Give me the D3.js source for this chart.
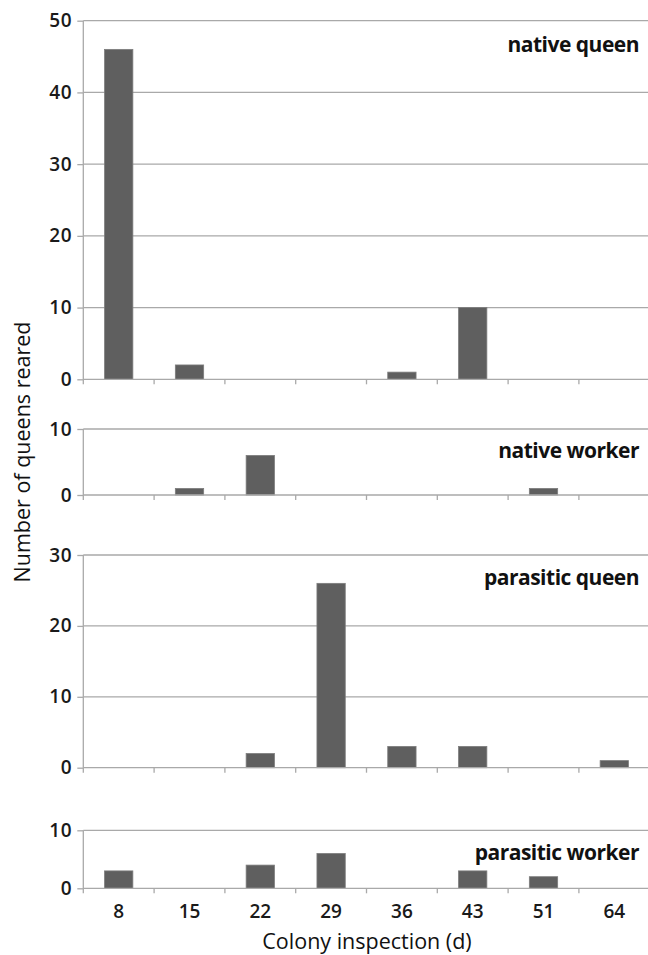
<!DOCTYPE html>
<html lang="en">
<head>
<meta charset="UTF-8">
<title>Queens reared per colony inspection</title>
<script src="https://d3js.org/d3.v7.min.js"></script>
<style>
  html, body { margin: 0; padding: 0; background: #fff; }
  svg { display: block; font-family: "Open Sans", "Noto Sans", sans-serif; }
</style>
</head>
<body>
<div id="chart"></div>
<script>
  // data
  const days = ["8", "15", "22", "29", "36", "43", "51", "64"];
  const nativeQueen = [46, 2, 0, 0, 1, 10, 0, 0];
  const nativeWorker = [0, 1, 6, 0, 0, 0, 1, 0];
  const parasiticQueen = [0, 0, 2, 26, 3, 3, 0, 1];
  const parasiticWorker = [3, 0, 4, 6, 0, 3, 2, 0];

  const panelLabels = ["native queen", "native worker", "parasitic queen", "parasitic worker"];
  const panelMax = [50, 10, 30, 10];

  const width = 648;
  const height = 955;
  const left = 83.3;
  const right = 649.7;

  // vertical placement of each panel (top = max value, bottom = 0)
  const panels = [
    { values: nativeQueen, top: 20.7, bottom: 379.3, labelY: 52 },
    { values: nativeWorker, top: 429, bottom: 495, labelY: 458 },
    { values: parasiticQueen, top: 555, bottom: 767.7, labelY: 585 },
    { values: parasiticWorker, top: 830.3, bottom: 888.3, labelY: 860 }
  ];

  const gridColor = "#a9a9a9";
  const barColor = "#5f5f5f";

  const svg = d3.select("#chart")
    .append("svg")
    .attr("width", width)
    .attr("height", height);

  const x = d3.scaleBand()
    .domain(days)
    .range([left, right])
    .paddingInner(0.6)
    .paddingOuter(0.3);

  const gap = (x.step() - x.bandwidth()) / 2;
  const boundaries = days.map(d => x(d) + x.bandwidth() + gap);

  panels.forEach((p, i) => {
    const max = panelMax[i];
    const y = d3.scaleLinear().domain([0, max]).range([p.bottom, p.top]);
    const ticks = d3.range(0, max + 1, 10);
    const g = svg.append("g");

    // gridlines
    g.selectAll("line.grid")
      .data(ticks.filter(t => t > 0))
      .join("line")
      .attr("class", "grid")
      .attr("x1", left)
      .attr("x2", right)
      .attr("y1", d => y(d))
      .attr("y2", d => y(d))
      .attr("stroke", gridColor)
      .attr("stroke-width", 1.3);

    // bars
    g.selectAll("rect")
      .data(p.values.map((v, j) => ({ day: days[j], v })).filter(d => d.v > 0))
      .join("rect")
      .attr("x", d => x(d.day))
      .attr("y", d => y(d.v))
      .attr("width", x.bandwidth())
      .attr("height", d => y(0) - y(d.v))
      .attr("fill", barColor)
      .attr("stroke", "#7d7d7d")
      .attr("stroke-width", 0.8);

    // y axis
    const yAxis = g.append("g")
      .attr("transform", `translate(${left},0)`)
      .call(d3.axisLeft(y).tickValues(ticks).tickSize(6).tickPadding(5).tickFormat(d3.format("d")));
    yAxis.select(".domain").remove();
    yAxis.selectAll(".tick line").attr("stroke", gridColor).attr("stroke-width", 1.3);
    yAxis.selectAll(".tick text")
      .attr("font-size", 19)
      .attr("font-family", "\"Open Sans\", sans-serif")
      .attr("font-weight", 600)
      .attr("letter-spacing", 0.6)
      .attr("fill", "#1a1a1a");

    g.append("line")
      .attr("x1", left).attr("x2", left)
      .attr("y1", p.top).attr("y2", p.bottom + 5)
      .attr("stroke", gridColor)
      .attr("stroke-width", 1.3);

    // baseline with category boundary ticks
    g.append("line")
      .attr("x1", left).attr("x2", right)
      .attr("y1", y(0)).attr("y2", y(0))
      .attr("stroke", gridColor)
      .attr("stroke-width", 1.3);

    g.selectAll("line.bt")
      .data(boundaries)
      .join("line")
      .attr("class", "bt")
      .attr("x1", d => d).attr("x2", d => d)
      .attr("y1", y(0)).attr("y2", y(0) + 5)
      .attr("stroke", gridColor)
      .attr("stroke-width", 1.3);

    // panel label
    g.append("text")
      .attr("x", 639)
      .attr("y", p.labelY)
      .attr("text-anchor", "end")
      .attr("font-size", 21)
      .attr("font-weight", 700)
      .attr("letter-spacing", -0.5)
      .attr("fill", "#111")
      .text(panelLabels[i]);
  });

  // category labels under the last panel
  svg.append("g")
    .selectAll("text")
    .data(days)
    .join("text")
    .attr("x", d => x(d) + x.bandwidth() / 2)
    .attr("y", 918)
    .attr("text-anchor", "middle")
    .attr("font-size", 19)
    .attr("font-weight", 600)
    .attr("fill", "#1a1a1a")
    .text(d => d);

  svg.append("text")
    .attr("x", 367)
    .attr("y", 949)
    .attr("text-anchor", "middle")
    .attr("font-size", 21.5)
    .attr("font-weight", 500)
    .attr("fill", "#111")
    .text("Colony inspection (d)");

  svg.append("text")
    .attr("transform", "translate(30,452) rotate(-90)")
    .attr("text-anchor", "middle")
    .attr("font-size", 21.5)
    .attr("font-weight", 500)
    .attr("fill", "#111")
    .text("Number of queens reared");
</script>
</body>
</html>
